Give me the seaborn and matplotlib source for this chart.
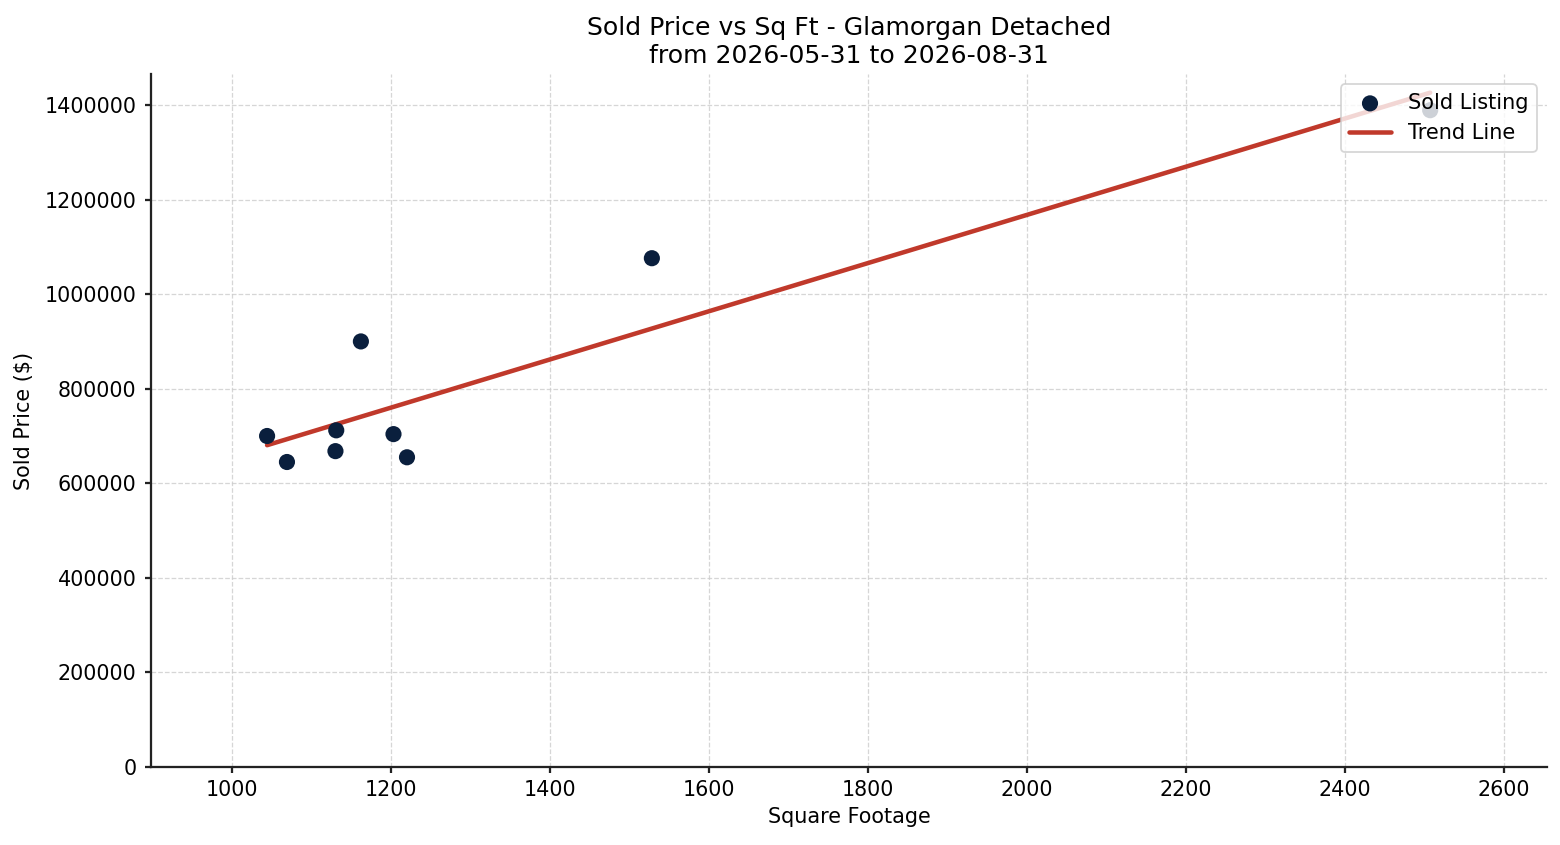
import numpy as np
import pandas as pd
import matplotlib
matplotlib.use("Agg")
import matplotlib.pyplot as plt
import seaborn as sns

sqft = [1044, 1069, 1131, 1130, 1162, 1203, 1220, 1528, 2507]
price = [700000, 645000, 712000, 668000, 900000, 704000, 655000, 1076000, 1389000]

title = "Sold Price vs Sq Ft - Glamorgan Detached\nfrom 2026-05-31 to 2026-08-31"

sns.set_theme(style="ticks", rc={
    "xtick.major.size": 3.5, "ytick.major.size": 3.5,
    "axes.linewidth": 1.25, "axes.edgecolor": "#222222",
    "xtick.color": "#222222", "ytick.color": "#222222",
    "xtick.labelcolor": "black", "ytick.labelcolor": "black",
})
plt.rcParams["font.family"] = ["DejaVu Sans"]

df = pd.DataFrame({"sqft": sqft, "price": price})
slope, intercept = np.polyfit(df["sqft"], df["price"], 1)
xs = np.array([min(sqft), max(sqft)])
trend = pd.DataFrame({"sqft": xs, "price": slope * xs + intercept})

fig, ax = plt.subplots(figsize=(12, 6.5), dpi=130)
fig.subplots_adjust(left=0.0968, right=0.9917, top=0.9124, bottom=0.0923)

sns.scatterplot(data=df, x="sqft", y="price", ax=ax, s=80, color="#0a1f3d",
                edgecolor="none", label="Sold Listing", zorder=3)
sns.lineplot(data=trend, x="sqft", y="price", ax=ax, color="#c0392b",
             linewidth=2.5, label="Trend Line", zorder=2)

ax.set_xlim(898, 2654)
ax.set_ylim(0, 1465500)
ax.ticklabel_format(style="plain", axis="y", useOffset=False)
ax.grid(True, linestyle="--", color="#cccccc", linewidth=0.7, alpha=0.8)
ax.set_axisbelow(True)
sns.despine(ax=ax)

ax.set_title(title, fontsize=13.9, color="black")
ax.set_xlabel("Square Footage", fontsize=11.5, color="black")
ax.set_ylabel("Sold Price (\\$)", fontsize=11.5, color="black", labelpad=6)
ax.tick_params(labelsize=11.4)
ax.tick_params(axis="y", pad=4.5)
ax.legend(loc="upper right", fontsize=11.6, framealpha=0.8, labelcolor="black")

fig.savefig("out.png", dpi=130)
